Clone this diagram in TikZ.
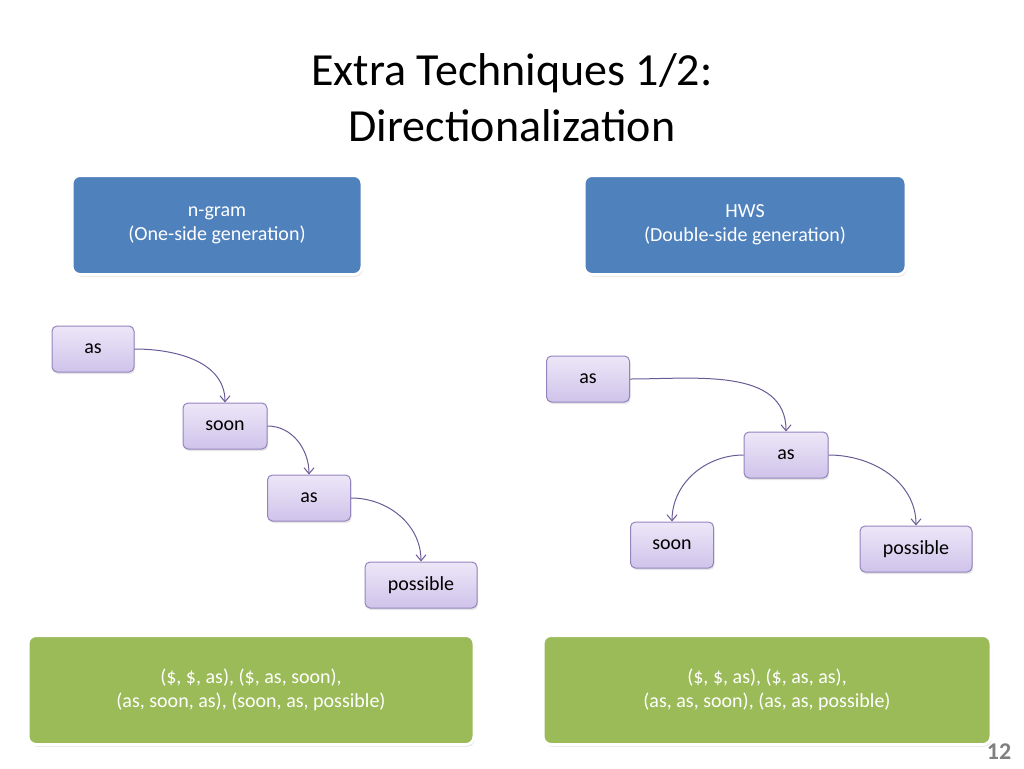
\documentclass[tikz,border=0pt]{standalone}
\usepackage{fontspec}
\setmainfont{Carlito}
\usetikzlibrary{arrows.meta,shadows}
\definecolor{bluebox}{HTML}{4F81BD}
\definecolor{greenbox}{HTML}{9BBB59}
\definecolor{lavtop}{HTML}{EDE7F8}
\definecolor{lavbot}{HTML}{CFC3EA}
\definecolor{lavline}{HTML}{9484BE}
\definecolor{arr}{HTML}{6A5A96}
\tikzset{
  big/.style={rounded corners=8pt, draw=white, line width=3pt, text=white, font=\fontsize{20}{24}\selectfont, align=center, drop shadow={shadow xshift=1pt,shadow yshift=-2pt,opacity=0.3}},
  word/.style={rounded corners=5pt, draw=lavline, line width=1pt, top color=lavtop, bottom color=lavbot, font=\fontsize{20}{24}\selectfont, drop shadow={shadow xshift=1pt,shadow yshift=-2pt,opacity=0.2}},
  link/.style={draw=arr, line width=1pt, -{Straight Barb[length=6pt,width=10pt]}}
}
\begin{document}
\begin{tikzpicture}[x=1pt,y=-1pt]
\useasboundingbox (0,0) rectangle (1024,768);
\node (title) at (512,98) [font=\fontsize{46}{56}\selectfont, align=center] {Extra Techniques 1/2:\\Directionalization};
\node (b1) [big, fill=bluebox, minimum width=290pt, minimum height=99pt] at (217,225) {n-gram\\(One-side generation)};
\node (b2) [big, fill=bluebox, minimum width=322pt, minimum height=99pt] at (745,225) {HWS\\(Double-side generation)};
\node (l1) [word, minimum width=82pt, minimum height=46pt] at (93,349) {as};
\node (l2) [word, minimum width=84pt, minimum height=46pt] at (225,426) {soon};
\node (l3) [word, minimum width=83pt, minimum height=46pt] at (309,498) {as};
\node (l4) [word, minimum width=112pt, minimum height=46pt] at (421,585) {possible};
\node (r1) [word, minimum width=83pt, minimum height=46pt] at (588,379) {as};
\node (r2) [word, minimum width=84pt, minimum height=46pt] at (786,455) {as};
\node (r3) [word, minimum width=83pt, minimum height=46pt] at (672,545) {soon};
\node (r4) [word, minimum width=112pt, minimum height=46pt] at (916,549) {possible};
\draw[link] (l1.east) to[out=0,in=90] (l2.north);
\draw[link] (l2.east) to[out=0,in=90] (l3.north);
\draw[link] (l3.east) to[out=0,in=90] (l4.north);
\draw[link] (r1.east) to[out=0,in=90] (r2.north);
\draw[link] (r2.west) to[out=180,in=90] (r3.north);
\draw[link] (r2.east) to[out=0,in=90] (r4.north);
\node (g1) [big, fill=greenbox, minimum width=446pt, minimum height=109pt] at (251,690) {(\$, \$, as), (\$, as, soon),\\(as, soon, as), (soon, as, possible)};
\node (g2) [big, fill=greenbox, minimum width=448pt, minimum height=109pt] at (767,690) {(\$, \$, as), (\$, as, as),\\(as, as, soon), (as, as, possible)};
\node (pg) at (999,752) [text=gray, font=\fontsize{24}{28}\selectfont\bfseries] {12};
\end{tikzpicture}
\end{document}
